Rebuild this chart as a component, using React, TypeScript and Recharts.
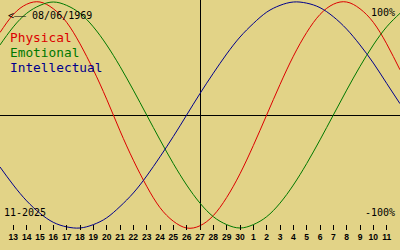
import React from "react";
import { LineChart, Line, XAxis, YAxis, ReferenceLine } from "recharts";

// day labels for each sample (index 0..30), ticks shown for 1..29
const dayLabels = [
  "12", "13", "14", "15", "16", "17", "18", "19", "20", "21", "22", "23", "24", "25", "26",
  "27", "28", "29", "30", "1", "2", "3", "4", "5", "6", "7", "8", "9", "10", "11", "12",
];

// values in percent
const physical = [
  73, 89, 98, 100, 94, 82, 63, 40, 14, -14, -40, -63, -82, -94, -100, -98,
  -89, -73, -52, -27, 0, 27, 52, 73, 89, 98, 100, 94, 82, 63, 40,
];
const emotional = [
  62, 78, 90, 97, 100, 97, 90, 78, 62, 43, 22, 0, -22, -43, -62, -78,
  -90, -97, -100, -97, -90, -78, -62, -43, -22, 0, 22, 43, 62, 78, 90,
];
const intellectual = [
  -46, -62, -76, -87, -95, -99, -100, -97, -91, -81, -69, -54, -37, -19, 0, 19,
  37, 54, 69, 81, 91, 97, 100, 99, 95, 87, 76, 62, 46, 28, 10,
];

const todayIndex = 15;
const birthDate = "08/06/1969";
const monthLabel = "11-2025";

const tickValues = dayLabels.map((_, i) => i).filter((i) => i > 0 && i < dayLabels.length - 1);

const data = dayLabels.map((day, i) => ({
  i,
  day,
  physical: physical[i],
  emotional: emotional[i],
  intellectual: intellectual[i],
}));

const RED = "#dc0000";
const GREEN = "#007800";
const BLUE = "#00008c";
const BG = "#e2d387";

const DayTick = (props: any) => {
  const { x, y, payload } = props;
  return (
    <g>
      <line x1={x} x2={x} y1={y - 3} y2={y + 2} stroke="#000" shapeRendering="crispEdges" />
      <text
        x={x}
        y={y + 12}
        textAnchor="middle"
        fill="#000"
        style={{ fontFamily: "Liberation Sans", fontWeight: "bold", fontSize: 8.5 }}
      >
        {dayLabels[payload.value]}
      </text>
    </g>
  );
};

export default function App() {
  const mono = { fontFamily: "DejaVu Sans Mono" };
  return (
    <div style={{ position: "absolute", left: 0, top: 0, width: 400, height: 250, background: BG }}>
      <LineChart width={400} height={250} data={data} margin={{ top: 2, right: 0, bottom: 0, left: 0 }}>
        <XAxis
          dataKey="i"
          type="number"
          domain={[0, 30]}
          ticks={tickValues}
          interval={0}
          height={22}
          tickSize={0}
          tickMargin={0}
          axisLine={false}
          tickLine={false}
          tick={<DayTick />}
        />
        <YAxis hide type="number" domain={[-100, 100]} />
        <ReferenceLine y={0} stroke="#000" shapeRendering="crispEdges" />
        <ReferenceLine
          ifOverflow="visible"
          segment={[{ x: todayIndex, y: 102 }, { x: todayIndex, y: -102 }]}
          stroke="#000"
          shapeRendering="crispEdges"
        />
        <Line type="natural" dataKey="physical" stroke={RED} strokeWidth={1} dot={false} isAnimationActive={false} />
        <Line type="natural" dataKey="emotional" stroke={GREEN} strokeWidth={1} dot={false} isAnimationActive={false} />
        <Line type="natural" dataKey="intellectual" stroke={BLUE} strokeWidth={1} dot={false} isAnimationActive={false} />
      </LineChart>
      <svg width={400} height={250} style={{ position: "absolute", left: 0, top: 0, pointerEvents: "none" }}>
        <text x={8} y={19} fontSize={10} fill="#000" style={mono}>
          <tspan>{"<"}</tspan>
          <tspan textLength={12} lengthAdjust="spacingAndGlyphs">{"\u2014"}</tspan>
          <tspan>{" " + birthDate}</tspan>
        </text>
        <text x={10} y={42} fontSize={12.8} fill={RED} style={mono}>Physical</text>
        <text x={10} y={57} fontSize={12.8} fill={GREEN} style={mono}>Emotional</text>
        <text x={10} y={72} fontSize={12.8} fill={BLUE} style={mono}>Intellectual</text>
        <text x={4} y={216} fontSize={10} fill="#000" style={mono}>{monthLabel}</text>
        <text x={395} y={16} fontSize={10} fill="#000" textAnchor="end" style={mono}>100%</text>
        <text x={395} y={216} fontSize={10} fill="#000" textAnchor="end" style={mono}>-100%</text>
      </svg>
    </div>
  );
}
